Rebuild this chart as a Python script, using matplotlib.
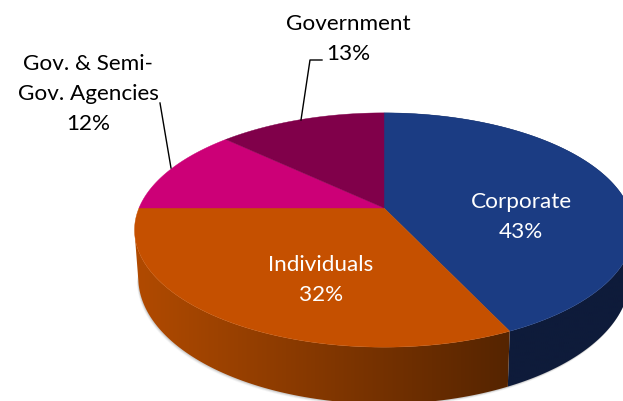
#!/usr/bin/env python3
"""Perspective 3D pie of holdings by investor type, saved to out.png."""

import numpy as np
import matplotlib
matplotlib.use('Agg')
import matplotlib.pyplot as plt
from matplotlib.colors import to_rgb
from matplotlib.patches import Polygon

categories = ['Corporate', 'Individuals', 'Gov. & Semi-\nGov. Agencies', 'Government']
shares     = [43, 32, 12, 13]

TOP_COLORS  = ['#1B3C83', '#C55000', '#CC0077', '#80004A']
WALL_LIGHT  = ['#0E1B3A', '#B04A00', '#A00060', '#600038']
WALL_DARK   = ['#0E1B3A', '#552400', '#A00060', '#600038']

W, H = 623, 401
CX, CY = 384, 208      # apex of the slices
RX, RY = 245, 113      # radii before the perspective divide
PERSP  = 0.188
DEPTH  = 46


def project(theta):
    """Clockwise angle from 12 o'clock -> pixel position on the top face."""
    u, v = np.sin(theta), np.cos(theta)
    d = 1 + PERSP * v
    return CX + RX * u / d, CY - RY * v / d


def project_base(theta):
    x, y = project(theta)
    d = 1 + PERSP * np.cos(theta)
    return CX + (x - CX) * 0.985, y + DEPTH / d


fig = plt.figure(figsize=(W / 100, H / 100), dpi=100)
ax = fig.add_axes([0, 0, 1, 1])

edges = np.radians(np.cumsum([0] + shares) * 3.6)
FRONT = np.radians(258)    # rim ends where the outline turns back up the left side

# soft shadow under the rim
th = np.linspace(np.radians(60), FRONT, 200)
bx, by = project_base(th)
for off, alpha in [(2.5, 0.08), (1.7, 0.14), (0.9, 0.22)]:
    pts = np.column_stack([np.r_[bx - off * 0.6, bx[::-1]], np.r_[by + off, by[::-1] - 10]])
    ax.add_patch(Polygon(pts, fc='#808080', ec='none', alpha=alpha, zorder=1))

# rim: horizontal gradient clipped to each slice's outline
for i in range(len(shares)):
    start, end = edges[i], min(edges[i + 1], FRONT)
    if end <= start:
        continue
    th = np.linspace(start, end, 200)
    x0, y0 = project(th)
    x1, y1 = project_base(th)
    outline = Polygon(np.column_stack([np.r_[x0, x1[::-1]], np.r_[y0, y1[::-1]]]),
                      fc='none', ec='none', transform=ax.transData)
    ax.add_patch(outline)
    xs = np.linspace(0, W, 312)
    t = np.clip((510 - xs) / (510 - 140), 0, 1)[:, None]
    light, dark = np.array(to_rgb(WALL_LIGHT[i])), np.array(to_rgb(WALL_DARK[i]))
    grad = (dark + (light - dark) * t)[None, :, :]
    im = ax.imshow(grad, extent=(0, W, H, 0), aspect='auto', interpolation='bilinear', zorder=2)
    im.set_clip_path(outline)

ax.set_xlim(0, W)
ax.set_ylim(H, 0)
ax.axis('off')

# top face
for i in range(len(shares)):
    th = np.linspace(edges[i], edges[i + 1], 150)
    x, y = project(th)
    pts = np.column_stack([np.r_[CX, x], np.r_[CY, y]])
    ax.add_patch(Polygon(pts, fc=TOP_COLORS[i], ec=TOP_COLORS[i], lw=0.3, zorder=3))

# leader lines
ax.plot([301, 310, 322], [120, 60, 60], color='black', lw=1.0, zorder=4)
ax.plot([171, 160], [168, 103], color='black', lw=1.0, zorder=4)

FONT = dict(family='Lato', fontsize=16.2, ha='center', va='center', linespacing=1.62, zorder=5)
label_xy = [(521, 217), (321, 280), (88, 94), (348, 39)]
label_col = ['white', 'white', 'black', 'black']
for name, val, (lx, ly), c in zip(categories, shares, label_xy, label_col):
    ax.text(lx, ly, f'{name}\n{val}%', color=c, **FONT)

fig.savefig('out.png', dpi=100, facecolor='white')
